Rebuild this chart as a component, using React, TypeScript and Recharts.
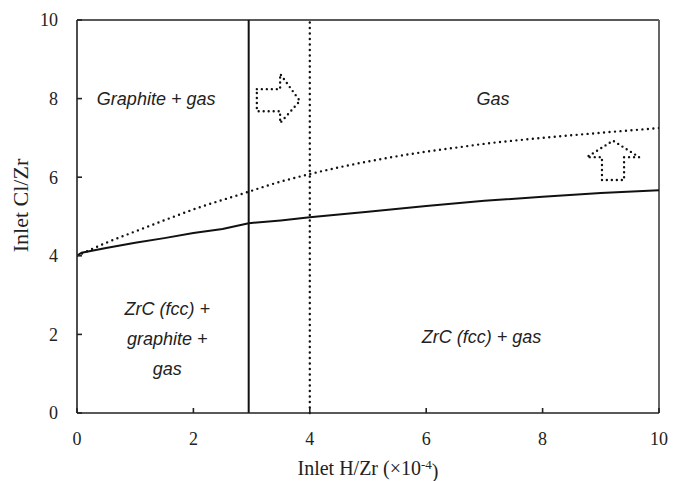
import { LineChart, Line, XAxis, YAxis, ReferenceLine, ReferenceDot } from "recharts";

// phase boundary curves
const solidX = [0, 0.08, 0.5, 1, 1.5, 2, 2.5, 2.95, 3.5, 4, 5, 6, 7, 8, 9, 10];
const solidY = [4.0, 4.08, 4.2, 4.33, 4.45, 4.58, 4.68, 4.83, 4.9, 4.98, 5.12, 5.27, 5.4, 5.5, 5.6, 5.67];

const dottedX = [0, 0.5, 1, 1.6, 2, 2.95, 3.3, 4, 5, 6, 6.5, 7, 8, 9, 10];
const dottedY = [4.0, 4.33, 4.62, 4.96, 5.18, 5.63, 5.8, 6.08, 6.4, 6.65, 6.75, 6.85, 7.0, 7.13, 7.25];

// outline of the two dotted arrows
const rightArrowX = [3.09, 3.49, 3.49, 3.83, 3.49, 3.49, 3.09, 3.09];
const rightArrowY = [8.24, 8.24, 8.63, 7.94, 7.38, 7.68, 7.68, 8.24];
const upArrowX = [9.02, 9.02, 8.76, 9.21, 9.66, 9.4, 9.4, 9.02];
const upArrowY = [5.93, 6.51, 6.51, 6.93, 6.51, 6.51, 5.93, 5.93];

const solidLimit = 2.95;
const dottedLimit = 4;

const xTicks = [0, 2, 4, 6, 8, 10];
const yTicks = [0, 2, 4, 6, 8, 10];

const regionLabels = [
  { x: 1.36, y: 8, lines: ["Graphite + gas"] },
  { x: 7.15, y: 8, lines: ["Gas"] },
  { x: 1.55, y: 1.88, lines: ["ZrC (fcc) +", "graphite +", "gas"] },
  { x: 6.95, y: 1.95, lines: ["ZrC (fcc) + gas"] },
];

const toPoints = (xs: number[], ys: number[]) => xs.map((x, i) => ({ x, y: ys[i] }));

const serif = "'Liberation Serif', 'Times New Roman', serif";
const sans = "'Liberation Sans', Arial, sans-serif";
const dots = { strokeDasharray: "0 5.5", strokeLinecap: "round" as const, strokeWidth: 2.4 };

const regionText = (lines: string[]) => (props: any) => {
  const vb = props.viewBox || {};
  const cx = vb.x + (vb.width || 0) / 2;
  const cy = vb.y + (vb.height || 0) / 2;
  const step = 30;
  const top = cy - ((lines.length - 1) * step) / 2;
  return (
    <text textAnchor="middle" fontFamily={sans} fontStyle="italic" fontSize={18} fill="#222">
      {lines.map((l, i) => (
        <tspan key={i} x={cx} y={top + i * step} dy="0.35em">
          {l}
        </tspan>
      ))}
    </text>
  );
};

const XTitle = (props: any) => {
  const vb = props.viewBox;
  return (
    <text x={vb.x + vb.width / 2} y={vb.y + vb.height - 6} textAnchor="middle" fontFamily={serif} fontSize={20} fill="#222">
      Inlet H/Zr (×10
      <tspan dy="-0.45em" fontSize={13}>-4</tspan>
      <tspan dy="0.45em">)</tspan>
    </text>
  );
};

const YTitle = (props: any) => {
  const vb = props.viewBox;
  const cx = 20;
  const cy = vb.y + vb.height / 2 - 11;
  return (
    <text
      x={cx}
      y={cy}
      dy="0.35em"
      textAnchor="middle"
      transform={`rotate(-90 ${cx} ${cy})`}
      fontFamily={serif}
      fontSize={22}
      fill="#222"
    >
      Inlet Cl/Zr
    </text>
  );
};

export default function App() {
  return (
    <div style={{ width: 674, height: 481, background: "#fff" }}>
      <style>{"body{margin:0}"}</style>
      <LineChart width={674} height={481} margin={{ top: 20, right: 15, bottom: 0, left: 0 }}>
        <XAxis
          type="number"
          dataKey="x"
          domain={[0, 10]}
          ticks={xTicks}
          allowDataOverflow
          height={68}
          tickSize={-5}
          tickMargin={24}
          stroke="#222"
          strokeWidth={1.6}
          tick={{ fontFamily: serif, fontSize: 18, fill: "#222" }}
          label={<XTitle />}
        />
        <YAxis
          type="number"
          dataKey="y"
          domain={[0, 10]}
          ticks={yTicks}
          allowDataOverflow
          width={77}
          tickSize={-5}
          tickMargin={24}
          stroke="#222"
          strokeWidth={1.6}
          tick={{ fontFamily: serif, fontSize: 18, fill: "#222" }}
          label={<YTitle />}
        />
        <ReferenceLine y={10} stroke="#222" strokeWidth={1.6} />
        <ReferenceLine x={10} stroke="#666" strokeWidth={2} />
        <ReferenceLine x={solidLimit} stroke="#111" strokeWidth={2} />
        <ReferenceLine x={dottedLimit} stroke="#111" {...dots} />
        <Line
          data={toPoints(solidX, solidY)}
          dataKey="y"
          type="linear"
          stroke="#111"
          strokeWidth={2}
          dot={false}
          isAnimationActive={false}
        />
        <Line
          data={toPoints(dottedX, dottedY)}
          dataKey="y"
          type="monotone"
          stroke="#111"
          {...dots}
          dot={false}
          isAnimationActive={false}
        />
        <Line
          data={toPoints(rightArrowX, rightArrowY)}
          dataKey="y"
          type="linear"
          stroke="#111"
          {...dots}
          strokeDasharray="0 5"
          dot={false}
          isAnimationActive={false}
        />
        <Line
          data={toPoints(upArrowX, upArrowY)}
          dataKey="y"
          type="linear"
          stroke="#111"
          {...dots}
          strokeDasharray="0 5"
          dot={false}
          isAnimationActive={false}
        />
        {regionLabels.map((r, i) => (
          <ReferenceDot
            key={i}
            x={r.x}
            y={r.y}
            r={0}
            fill="none"
            stroke="none"
            label={{ content: regionText(r.lines) }}
          />
        ))}
      </LineChart>
    </div>
  );
}
